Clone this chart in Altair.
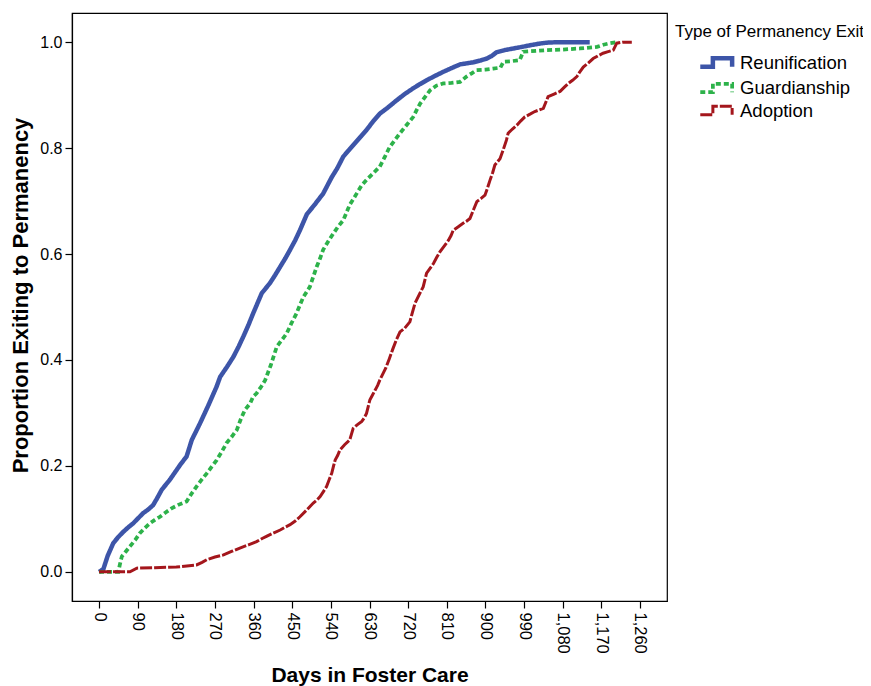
import altair as alt
import pandas as pd

series_names = ["Reunification", "Guardianship", "Adoption"]
series_colors = ["#3D55A8", "#2DB24A", "#A4161C"]
series_dashes = [[1, 0], [5, 3], [12, 2]]
series_widths = [4.5, 3, 3]

reun_days = [0, 10, 20, 33, 45, 57, 68, 80, 92, 103, 115, 126, 136, 146, 155, 165, 177, 189, 204, 216,
             235, 255, 274, 282, 298, 313, 325, 336, 348, 359, 379, 398, 410, 422, 434, 445, 457, 468, 484,
             503, 522, 542, 555, 569, 583, 596, 610, 623, 638, 654, 672, 693, 712, 732, 748, 763, 782, 802,
             821, 841, 857, 872, 887, 903, 915, 926, 945, 965, 985, 1004, 1024, 1043, 1070, 1143]
reun_prop = [0.0, 0.005, 0.03, 0.054, 0.066, 0.076, 0.084, 0.092, 0.102, 0.111, 0.118, 0.126, 0.14, 0.155,
             0.164, 0.174, 0.188, 0.202, 0.218, 0.249, 0.28, 0.315, 0.35, 0.368, 0.387, 0.406, 0.425, 0.444,
             0.466, 0.488, 0.526, 0.545, 0.56, 0.576, 0.592, 0.608, 0.626, 0.645, 0.675, 0.694, 0.714, 0.745,
             0.762, 0.784, 0.797, 0.809, 0.822, 0.834, 0.85, 0.865, 0.876, 0.89, 0.902, 0.913, 0.921, 0.928,
             0.936, 0.944, 0.951, 0.958, 0.96, 0.962, 0.965, 0.969, 0.974, 0.981, 0.985, 0.988, 0.991, 0.994,
             0.997, 0.999, 1.0, 1.0]

guard_days = [0, 45, 48, 53, 62, 72, 84, 95, 107, 119, 130, 142, 155, 169, 186, 204, 215, 227, 239, 251,
              263, 274, 286, 297, 309, 321, 331, 340, 352, 359, 367, 378, 387, 400, 414, 426, 437, 448, 460,
              468, 476, 491, 499, 507, 515, 522, 534, 546, 557, 569, 584, 600, 612, 623, 638, 654, 666, 677,
              689, 701, 716, 732, 740, 748, 760, 771, 786, 802, 821, 841, 856, 868, 879, 900, 918, 935, 942,
              960, 980, 988, 1043, 1080, 1120, 1160, 1175, 1190, 1206, 1210]
guard_prop = [0.0, 0.0, 0.012, 0.029, 0.038, 0.048, 0.06, 0.073, 0.083, 0.092, 0.098, 0.104, 0.112, 0.12,
              0.127, 0.133, 0.147, 0.161, 0.174, 0.186, 0.199, 0.211, 0.227, 0.243, 0.255, 0.268, 0.29, 0.306,
              0.318, 0.331, 0.337, 0.35, 0.362, 0.39, 0.425, 0.438, 0.45, 0.469, 0.488, 0.504, 0.519, 0.538,
              0.557, 0.576, 0.592, 0.608, 0.624, 0.639, 0.652, 0.664, 0.693, 0.714, 0.73, 0.74, 0.752, 0.765,
              0.784, 0.802, 0.815, 0.828, 0.843, 0.859, 0.872, 0.884, 0.897, 0.909, 0.918, 0.922, 0.923, 0.925,
              0.935, 0.941, 0.947, 0.948, 0.95, 0.952, 0.963, 0.964, 0.966, 0.982, 0.985, 0.986, 0.988, 0.991,
              0.995, 0.998, 1.0, 1.0]

adopt_days = [0, 72, 88, 130, 180, 227, 240, 251, 270, 290, 310, 328, 348, 367, 380, 390, 405, 422, 435,
              445, 457, 468, 484, 499, 508, 515, 523, 530, 536, 542, 546, 550, 556, 561, 572, 584, 588, 592,
              602, 612, 618, 623, 627, 631, 637, 643, 649, 654, 660, 668, 676, 684, 692, 701, 712, 724, 730,
              736, 745, 755, 763, 771, 779, 786, 794, 804, 814, 820, 825, 836, 848, 856, 864, 872, 880, 890,
              899, 905, 911, 917, 922, 928, 934, 942, 949, 953, 963, 973, 982, 992, 1004, 1015, 1025, 1035,
              1046, 1060, 1074, 1084, 1093, 1103, 1113, 1120, 1128, 1140, 1151, 1162, 1174, 1186, 1198, 1206,
              1220, 1241]
adopt_prop = [0.0, 0.0, 0.007, 0.008, 0.009, 0.013, 0.018, 0.023, 0.028, 0.032, 0.039, 0.045, 0.051, 0.057,
              0.063, 0.067, 0.073, 0.079, 0.085, 0.089, 0.096, 0.104, 0.117, 0.13, 0.136, 0.142, 0.152, 0.161,
              0.174, 0.186, 0.199, 0.211, 0.22, 0.23, 0.24, 0.249, 0.26, 0.271, 0.278, 0.284, 0.291, 0.299,
              0.312, 0.325, 0.334, 0.343, 0.352, 0.362, 0.372, 0.385, 0.402, 0.42, 0.437, 0.453, 0.46, 0.472,
              0.49, 0.507, 0.522, 0.538, 0.564, 0.573, 0.582, 0.593, 0.604, 0.615, 0.626, 0.635, 0.645, 0.651,
              0.658, 0.662, 0.667, 0.683, 0.699, 0.705, 0.711, 0.725, 0.74, 0.754, 0.768, 0.774, 0.78, 0.798,
              0.815, 0.828, 0.836, 0.843, 0.851, 0.859, 0.864, 0.869, 0.872, 0.875, 0.897, 0.902, 0.907, 0.915,
              0.922, 0.928, 0.935, 0.944, 0.953, 0.961, 0.969, 0.974, 0.979, 0.982, 0.985, 0.998, 1.0, 1.0]

x_ticks = [0, 90, 180, 270, 360, 450, 540, 630, 720, 810, 900, 990, 1080, 1170, 1260]
y_ticks = [0.0, 0.2, 0.4, 0.6, 0.8, 1.0]

rows = []
for name, days, props in [("Reunification", reun_days, reun_prop),
                          ("Guardianship", guard_days, guard_prop),
                          ("Adoption", adopt_days, adopt_prop)]:
    for d, p in zip(days, props):
        rows.append({"series": name, "day": d, "prop": p})
df = pd.DataFrame(rows)

legend_symbol = "M1.53,0.47L2.93,0.47L2.93,-0.47L5.07,-0.47L5.07,0.47"

legend = alt.Legend(
    orient="none", legendX=603, legendY=11,
    title="Type of Permanency Exit", titleFontSize=17, titleFontWeight="normal",
    titleColor="#000", titlePadding=10, titleLimit=400,
    labelFontSize=18.5, labelColor="#000", labelOffset=42, labelLimit=400,
    symbolType=legend_symbol, symbolSize=324, symbolStrokeWidth=3,
    symbolFillColor="transparent", rowPadding=0,
)

chart = alt.Chart(df).mark_line(interpolate="linear").encode(
    x=alt.X("day:Q", scale=alt.Scale(domain=[-63, 1323], nice=False, zero=False),
            axis=alt.Axis(values=x_ticks, format=",d", labelAngle=90, labelAlign="left",
                          labelBaseline="middle", labelFontSize=16.5, labelPadding=4,
                          tickSize=7, title="Days in Foster Care", titleFontSize=21,
                          titleFontWeight="bold", titleY=63, titleBaseline="top")),
    y=alt.Y("prop:Q", scale=alt.Scale(domain=[-0.055, 1.055], nice=False, zero=False),
            axis=alt.Axis(values=y_ticks, format=".1f", labelFontSize=16, labelPadding=3,
                          tickSize=7, title="Proportion Exiting to Permanency", titleFontSize=22,
                          titleFontWeight="bold", titleX=-52, titleY=282, titleBaseline="middle")),
    color=alt.Color("series:N", scale=alt.Scale(domain=series_names, range=series_colors),
                    legend=legend, title="Type of Permanency Exit"),
    strokeDash=alt.StrokeDash("series:N", scale=alt.Scale(domain=series_names, range=series_dashes),
                              legend=legend, title="Type of Permanency Exit"),
    strokeWidth=alt.StrokeWidth("series:N", scale=alt.Scale(domain=series_names, range=series_widths),
                                legend=None),
).properties(
    width=595, height=588,
    autosize=alt.AutoSizeParams(type="none"),
    padding={"left": 64, "top": 5, "right": 196, "bottom": 85},
).configure(
    font="Liberation Sans",
).configure_view(
    stroke="#000", strokeWidth=1.2,
).configure_axis(
    grid=False, domainColor="#000", tickColor="#000", labelColor="#000", titleColor="#000",
    domainWidth=1.2, tickWidth=1.2,
)

chart.save("out.html", embed_options={"renderer": "svg", "actions": False})
